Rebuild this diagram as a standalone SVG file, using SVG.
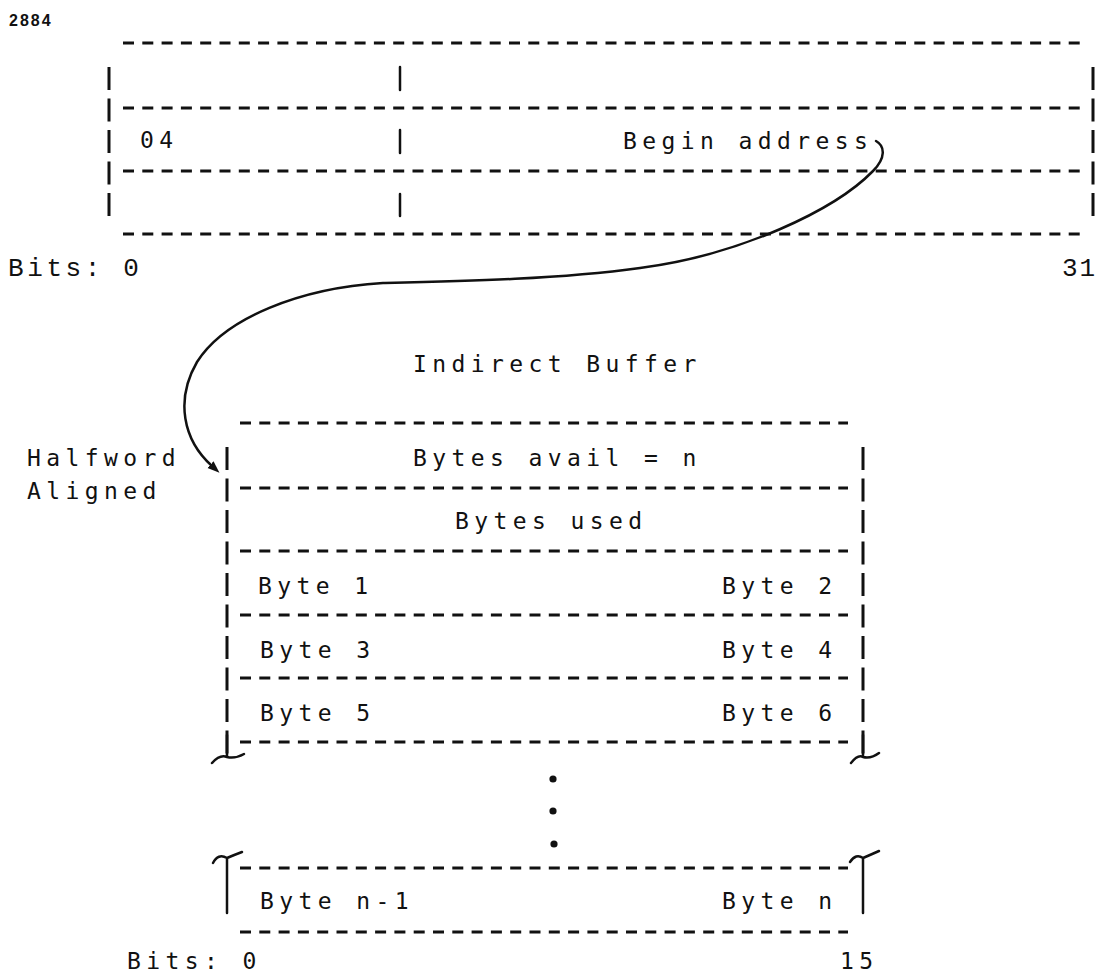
<svg xmlns="http://www.w3.org/2000/svg" width="1103" height="975" viewBox="0 0 1103 975">
<style>
.t{font-family:"DejaVu Sans Mono","Liberation Mono",monospace;font-size:23px;letter-spacing:5.4px;fill:#111}
.b{font-family:"Liberation Mono","DejaVu Sans Mono",monospace;font-size:26px;letter-spacing:3.6px;fill:#111}
.d{stroke:#111;stroke-width:3;stroke-dasharray:11 8.3;fill:none}
.v{stroke:#111;stroke-width:3;stroke-dasharray:23 8.5;fill:none}
.s{stroke:#111;stroke-width:2.5;fill:none;stroke-linecap:round}
</style>
<defs>
<marker id="ah" markerUnits="userSpaceOnUse" markerWidth="14" markerHeight="10" refX="2" refY="4.5" orient="auto">
<path d="M0,0 L12,4.5 L0,9 z" fill="#111"/>
</marker>
</defs>
<rect width="1103" height="975" fill="#fff"/>
<text x="9" y="26" style="font-family:'Liberation Sans',Arial,sans-serif;font-weight:bold;font-size:16px;letter-spacing:2px;fill:#111">2884</text>

<g id="top-record">
<line class="d" x1="123" y1="43" x2="1080" y2="43"/>
<line class="d" x1="123" y1="108" x2="1080" y2="108"/>
<line class="d" x1="123" y1="171" x2="1080" y2="171"/>
<line class="d" x1="123" y1="234" x2="1080" y2="234"/>
<line class="v" x1="109" y1="67" x2="109" y2="217"/>
<line class="v" x1="1093" y1="67" x2="1093" y2="217"/>
<line class="s" stroke-width="3" x1="400" y1="67" x2="400" y2="90"/>
<line class="s" stroke-width="3" x1="400" y1="130" x2="400" y2="153"/>
<line class="s" stroke-width="3" x1="400" y1="194" x2="400" y2="216"/>
<text class="t" x="140" y="148">04</text>
<text class="t" x="623" y="149">Begin address</text>
<text class="b" x="8" y="276">Bits: 0</text>
<text class="b" x="1062" y="276" style="letter-spacing:2px">31</text>
</g>

<g id="indirect-buffer">
<text class="t" x="413" y="372">Indirect Buffer</text>
<line class="d" x1="240" y1="423" x2="848" y2="423"/>
<line class="d" x1="240" y1="488" x2="848" y2="488"/>
<line class="d" x1="240" y1="551" x2="848" y2="551"/>
<line class="d" x1="240" y1="615" x2="848" y2="615"/>
<line class="d" x1="240" y1="678" x2="848" y2="678"/>
<line class="d" x1="240" y1="742" x2="848" y2="742"/>
<line class="v" x1="227" y1="447" x2="227" y2="756"/>
<line class="v" x1="863" y1="447" x2="863" y2="756"/>
<path class="s" d="M227 735 L227 756 M212 763 Q220 754 227 757 Q235 759 244 754"/>
<path class="s" d="M863 735 L863 756 M851 763 Q858 754 863 757 Q871 759 879 753"/>
<circle cx="553" cy="779" r="3.6" fill="#111"/>
<circle cx="553" cy="811" r="3.6" fill="#111"/>
<circle cx="554" cy="844" r="3.6" fill="#111"/>
<line class="d" x1="240" y1="868" x2="848" y2="868"/>
<line class="d" x1="240" y1="932" x2="848" y2="932"/>
<path class="s" d="M227 858 L227 913 M213 863 Q218 853 227 858 Q234 855 242 852"/>
<path class="s" d="M863 858 L863 913 M850 862 Q856 853 863 858 Q870 855 879 851"/>
<text class="t" x="413" y="466">Bytes avail = n</text>
<text class="t" x="455" y="529">Bytes used</text>
<text class="t" x="258" y="594">Byte 1</text>
<text class="t" x="722" y="594">Byte 2</text>
<text class="t" x="260" y="658">Byte 3</text>
<text class="t" x="722" y="658">Byte 4</text>
<text class="t" x="260" y="721">Byte 5</text>
<text class="t" x="722" y="721">Byte 6</text>
<text class="t" x="260" y="909">Byte n-1</text>
<text class="t" x="722" y="909">Byte n</text>
<text class="t" x="127" y="969">Bits: 0</text>
<text class="t" x="840" y="969">15</text>
</g>

<g id="alignment-label">
<text class="t" x="27" y="466">Halfword</text>
<text class="t" x="27" y="499">Aligned</text>
</g>

<g id="connectors">
<path class="s" marker-end="url(#ah)" d="M876 141 C885 146 886 158 873 171 C835 210 740 255 640 268 C560 279 470 281 383 283 C300 288 225 318 197 362 C175 400 183 440 212 466"/>
</g>
</svg>
